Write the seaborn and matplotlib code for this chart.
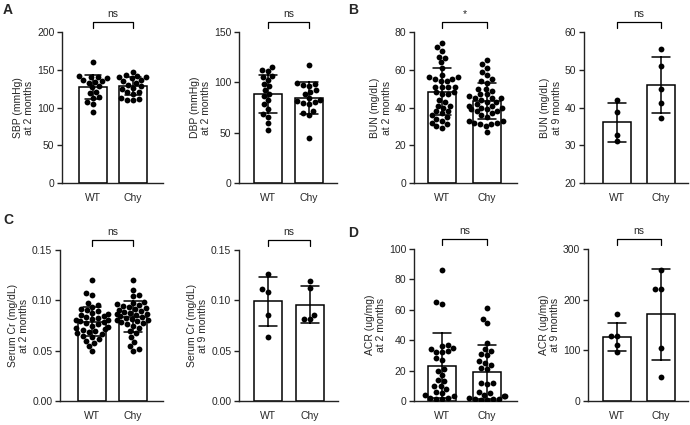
import numpy as np
import pandas as pd
import matplotlib
matplotlib.use("Agg")
import matplotlib.pyplot as plt
from matplotlib.ticker import FormatStrFormatter
import seaborn as sns

groups = ["WT", "Chy"]

# A: blood pressure at 2 months
sbp_wt = [160, 142, 141, 140, 139, 136, 135, 134, 133, 128, 127, 121, 119, 114, 112, 107, 104, 94]
sbp_chy = [147, 143, 142, 141, 140, 139, 136, 135, 133, 130, 128, 126, 125, 121, 120, 118, 112, 111, 110, 110]
dbp_wt = [115, 112, 111, 106, 105, 102, 98, 96, 92, 88, 86, 82, 78, 74, 69, 66, 60, 53]
dbp_chy = [117, 99, 98, 97, 96, 92, 90, 88, 84, 82, 81, 80, 79, 78, 72, 70, 68, 45]

# B: BUN
bun2_wt = [74, 72, 70, 67, 66, 64, 61, 57, 56, 56, 55, 55, 54, 54, 51, 51, 51, 51, 48, 48, 47, 47,
           44, 43, 41, 41, 40, 38, 38, 37, 36, 35, 34, 33, 32, 31, 30, 29]
bun2_chy = [65, 63, 61, 59, 57, 55, 54, 53, 50, 50, 49, 47, 47, 46, 45, 45, 45, 44, 43, 43,
            42, 41, 41, 40, 40, 39, 39, 38, 38, 37, 36, 35, 33, 33, 32, 32, 31, 31, 30, 27]
bun9_wt = [42.0, 38.7, 32.6, 31.0]
bun9_chy = [55.5, 50.9, 44.9, 41.2, 37.2]

# C: serum creatinine
cr2_wt = [0.120, 0.107, 0.105, 0.097, 0.095, 0.093, 0.091, 0.090, 0.089, 0.087, 0.086, 0.085, 0.084,
          0.083, 0.082, 0.081, 0.080, 0.080, 0.079, 0.078, 0.077, 0.076, 0.075, 0.074, 0.073, 0.072,
          0.071, 0.070, 0.069, 0.068, 0.067, 0.065, 0.064, 0.062, 0.060, 0.058, 0.055, 0.050]
cr2_chy = [0.120, 0.110, 0.105, 0.104, 0.098, 0.097, 0.096, 0.095, 0.094, 0.093, 0.092, 0.091, 0.090,
           0.089, 0.088, 0.087, 0.086, 0.086, 0.085, 0.084, 0.083, 0.082, 0.081, 0.080, 0.080, 0.079,
           0.078, 0.077, 0.076, 0.075, 0.073, 0.070, 0.068, 0.064, 0.059, 0.055, 0.052, 0.050]
cr9_wt = [0.126, 0.1085, 0.111, 0.085, 0.064]
cr9_chy = [0.119, 0.112, 0.085, 0.081, 0.081]

# D: ACR
acr2_wt = [86, 65, 64, 37, 36, 35, 34, 33, 32, 32, 28, 27, 21, 20, 17, 14, 13, 10, 10, 8, 6, 5, 4, 3,
           2, 2, 1, 1]
acr2_chy = [61, 54, 51, 38, 34, 33, 31, 30, 26, 25, 24, 22, 21, 12, 12, 11, 6, 5, 4, 3, 3, 2, 1, 1,
            1, 0.5, 0.5]
acr9_wt = [171, 128, 128, 110, 97]
acr9_chy = [258, 222, 222, 105, 47]

panels = [
    (sbp_wt, sbp_chy, "SBP (mmHg)\nat 2 months", (0, 200), np.arange(0, 201, 50), "ns"),
    (dbp_wt, dbp_chy, "DBP (mmHg)\nat 2 months", (0, 150), np.arange(0, 151, 50), "ns"),
    (bun2_wt, bun2_chy, "BUN (mg/dL)\nat 2 months", (0, 80), np.arange(0, 81, 20), "*"),
    (bun9_wt, bun9_chy, "BUN (mg/dL)\nat 9 months", (20, 60), np.arange(20, 61, 10), "ns"),
    (cr2_wt, cr2_chy, "Serum Cr (mg/dL)\nat 2 months", (0, 0.15), [0, 0.05, 0.10, 0.15], "ns"),
    (cr9_wt, cr9_chy, "Serum Cr (mg/dL)\nat 9 months", (0, 0.15), [0, 0.05, 0.10, 0.15], "ns"),
    (acr2_wt, acr2_chy, "ACR (ug/mg)\nat 2 months", (0, 100), np.arange(0, 101, 20), "ns"),
    (acr9_wt, acr9_chy, "ACR (ug/mg)\nat 9 months", (0, 300), np.arange(0, 301, 100), "ns"),
]

# pixel layout: left, right, top, bottom of each axes, and x centres of WT / Chy bars
layout = [
    (62, 163, 32, 183, 93, 133),
    (239, 337, 32, 183, 268, 309),
    (414, 517, 32, 183, 442, 487),
    (584, 688, 32, 183, 617, 661),
    (60, 163, 250, 401, 92, 133),
    (239, 338, 250, 401, 268, 310),
    (414, 517, 249, 401, 442, 487),
    (588, 688, 249, 401, 617, 661),
]

W, H = 690, 425
sns.set_style("ticks")
plt.rcParams["font.family"] = ["Liberation Sans", "DejaVu Sans"]
plt.rcParams["font.size"] = 7

fig = plt.figure(figsize=(W / 100, H / 100), dpi=100)

for (wt, chy, ylabel, ylim, yticks, sig), (x0, x1, y0, y1, cw, cc) in zip(panels, layout):
    ax = fig.add_axes([x0 / W, 1 - y1 / H, (x1 - x0) / W, (y1 - y0) / H])
    df = pd.DataFrame({"group": ["WT"] * len(wt) + ["Chy"] * len(chy), "value": wt + chy})
    s = cc - cw
    width = 28 / s
    sns.barplot(data=df, x="group", y="value", order=groups, estimator="mean", errorbar="sd",
                color="white", edgecolor="black", linewidth=1.1, width=width, capsize=0.42,
                err_kws={"color": "black", "linewidth": 1.1, "zorder": 4}, ax=ax)
    sns.swarmplot(data=df, x="group", y="value", order=groups, color="black", size=4.2,
                  zorder=3, ax=ax, warn_thresh=1)
    ax.set_xlim(-(cw - x0) / s, 1 + (x1 - cc) / s)
    ax.set_ylim(*ylim)
    ax.set_yticks(yticks)
    if ylim[1] < 1:
        ax.yaxis.set_major_formatter(FormatStrFormatter("%.2f"))
    ax.set_xlabel("")
    ax.set_ylabel(ylabel, fontsize=7.5, labelpad=2)
    ax.tick_params(axis="both", labelsize=7.5, length=3.5, width=1, color="#222222", pad=2)
    ax.tick_params(axis="x", length=0, pad=7)
    sns.despine(ax=ax)
    for sp in ("left", "bottom"):
        ax.spines[sp].set_linewidth(1)
        ax.spines[sp].set_color("#222222")

    # significance bracket
    hgt = y1 - y0
    ytop = 1 + 10 / hgt
    ylow = 1 + 4 / hgt
    tr = ax.get_xaxis_transform()
    ax.plot([0, 0, 1, 1], [ylow, ytop, ytop, ylow], color="black", lw=0.9,
            transform=tr, clip_on=False)
    ax.text(0.5, ytop + 3 / hgt, sig, ha="center", va="bottom", fontsize=7.5,
            transform=tr)

for letter, px, py in [("A", 3, 3), ("B", 348, 3), ("C", 3, 213), ("D", 348, 226)]:
    fig.text(px / W, 1 - py / H, letter, fontsize=10, fontweight="bold", va="top", ha="left")

fig.savefig("out.png", dpi=100)
